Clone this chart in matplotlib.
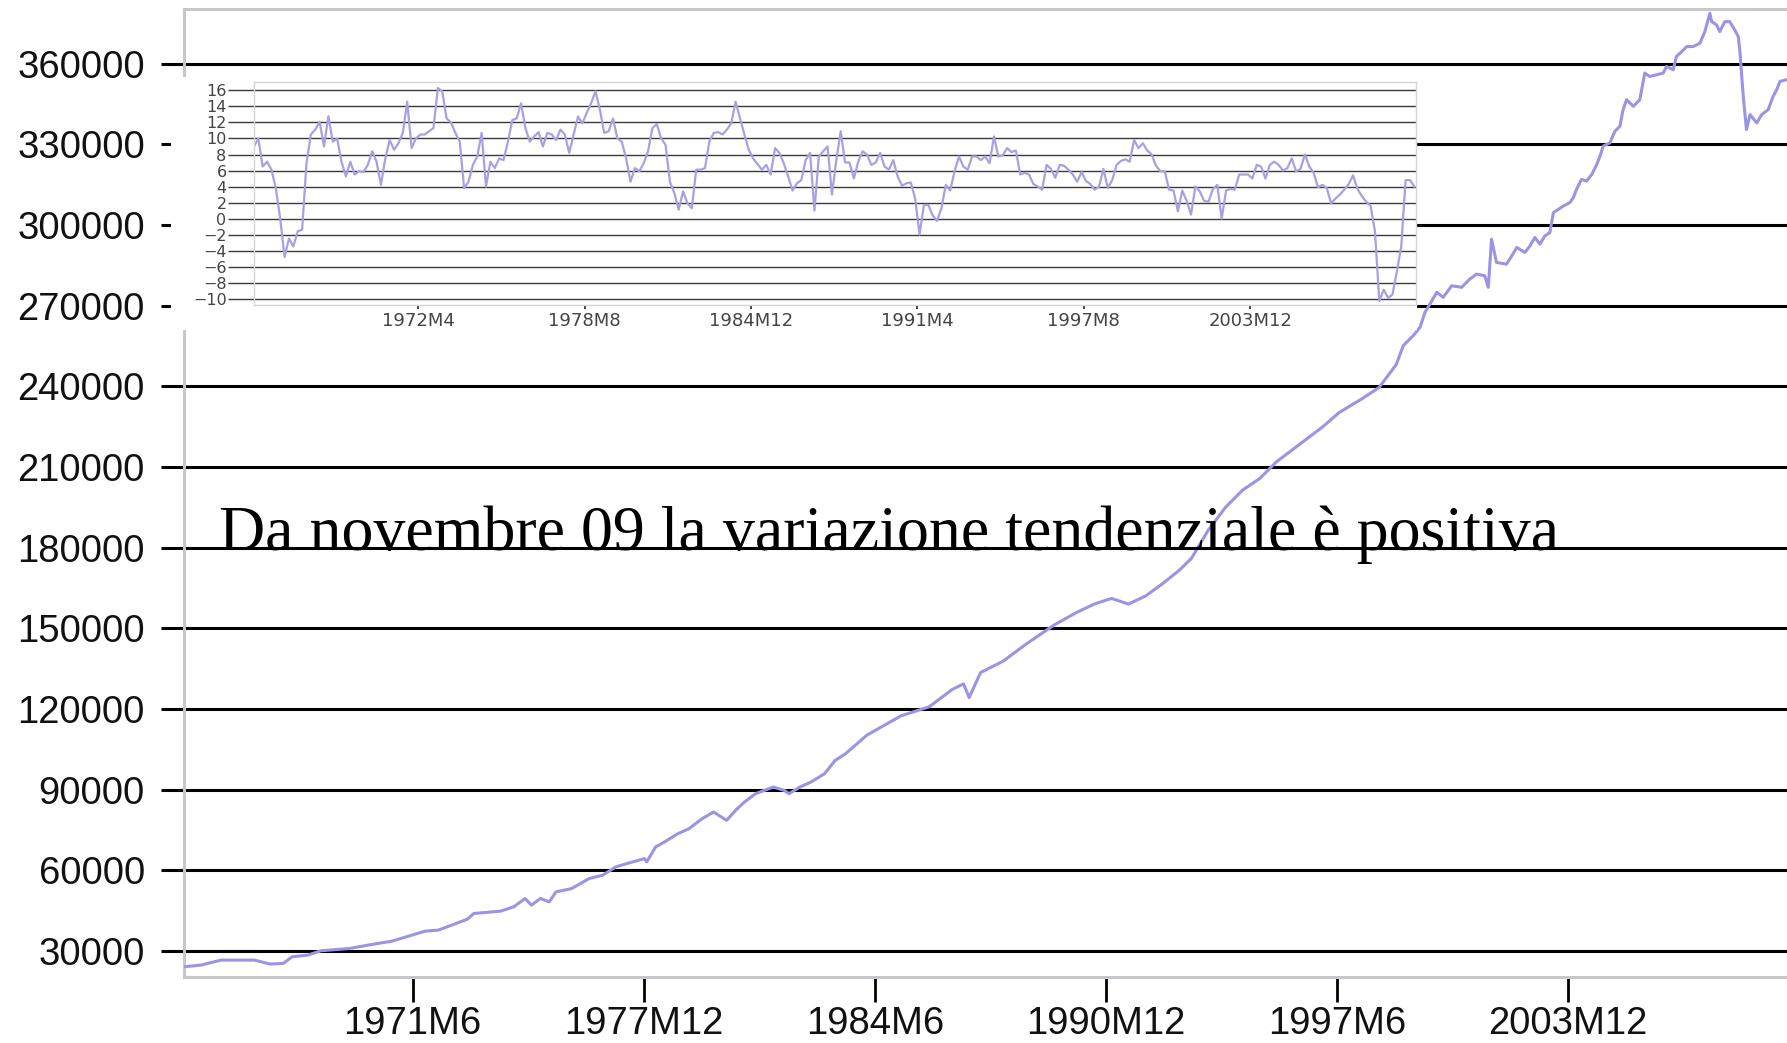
import numpy as np
import matplotlib.pyplot as plt
from matplotlib.patches import Rectangle

# main series: level (decimal year, value)
main_years = [
    1965.00, 1965.47, 1966.03, 1966.97, 1967.41, 1967.78, 1968.03, 1968.47, 1968.84, 1969.65,
    1970.27, 1970.84, 1971.40, 1971.77, 1972.14, 1972.64, 1972.96, 1973.14, 1973.89, 1974.26,
    1974.58, 1974.76, 1975.01, 1975.26, 1975.45, 1975.89, 1976.38, 1976.76, 1977.13, 1977.44,
    1977.94, 1978.00, 1978.25, 1978.50, 1978.88, 1979.19, 1979.56, 1979.88, 1980.25, 1980.50,
    1980.75, 1981.06, 1981.31, 1981.56, 1981.87, 1982.00, 1982.31, 1982.62, 1983.00, 1983.30,
    1983.59, 1984.19, 1985.15, 1985.95, 1986.59, 1986.91, 1987.07, 1987.39, 1988.03, 1988.67,
    1989.47, 1990.11, 1990.59, 1991.07, 1991.55, 1992.03, 1992.51, 1992.99, 1993.32, 1993.80,
    1994.28, 1994.76, 1995.24, 1995.72, 1996.36, 1997.00, 1997.48, 1998.12, 1998.60, 1999.08,
    1999.28, 1999.56, 1999.75, 1999.89, 2000.03, 2000.22, 2000.40, 2000.64, 2000.92, 2001.15,
    2001.34, 2001.57, 2001.67, 2001.76, 2001.90, 2002.18, 2002.33, 2002.47, 2002.70, 2002.84,
    2002.98, 2003.12, 2003.26, 2003.40, 2003.50, 2003.64, 2003.78, 2003.96, 2004.06, 2004.15,
    2004.29, 2004.43, 2004.58, 2004.72, 2004.81, 2004.90, 2005.09, 2005.23, 2005.37, 2005.46,
    2005.56, 2005.75, 2005.93, 2006.07, 2006.21, 2006.59, 2006.68, 2006.87, 2006.96, 2007.11,
    2007.25, 2007.43, 2007.62, 2007.76, 2007.90, 2007.95, 2008.09, 2008.18, 2008.32, 2008.46,
    2008.60, 2008.70, 2008.75, 2008.79, 2008.84, 2008.93, 2009.03, 2009.22, 2009.36, 2009.54,
    2009.68, 2009.78, 2009.87, 2010.06,
]
main_values = [
    24060, 24680, 26530, 26530, 25050, 25300, 27770, 28390, 30000, 30870,
    32350, 33590, 35820, 37300, 37680, 40150, 41760, 43870, 44730, 46340,
    49440, 46960, 49440, 48200, 51910, 53150, 56860, 58100, 61200, 62440,
    64290, 63050, 68630, 70480, 73580, 75430, 79150, 81620, 78530, 82240,
    85340, 88430, 89670, 90910, 89670, 88430, 90910, 92770, 95860, 100810,
    103290, 110190, 117400, 120800, 127200, 129300, 124200, 133500, 137800, 144100,
    151300, 156000, 159000, 161100, 159000, 162000, 166600, 171700, 176000, 186600,
    195000, 201400, 205700, 212000, 218400, 224800, 230300, 235400, 239600, 248100,
    255170, 258880, 261980, 267560, 270640, 274980, 273120, 277420, 276830, 279910,
    281760, 281130, 276830, 294740, 286100, 285470, 288550, 291660, 289810, 292260,
    295370, 292890, 295960, 297220, 304630, 305860, 307090, 308330, 310180, 313280,
    316990, 316360, 318850, 322550, 325630, 329340, 330590, 334900, 336750, 342940,
    346650, 344170, 346650, 356550, 355290, 356550, 359000, 357780, 362710, 364560,
    366410, 366410, 367650, 371980, 378800, 375690, 374460, 371980, 375690, 375690,
    372610, 370120, 363970, 356550, 347880, 335530, 341090, 338010, 341090, 342940,
    347880, 350360, 353440, 354070,
]

# inset: year-on-year % change, one reading every two months from 1966M1
inset_values = [
    9.0, 10.0, 6.5, 7.1, 6.1, 3.8, 0.0, -4.8, -2.5, -3.5,
    -1.6, -1.4, 6.9, 10.5, 11.1, 12.1, 9.0, 12.8, 9.6, 10.0,
    7.1, 5.25, 7.1, 5.5, 5.9, 5.8, 6.7, 8.4, 7.1, 4.2,
    7.5, 9.8, 8.6, 9.4, 10.7, 14.6, 8.8, 10.0, 10.5, 10.5,
    10.9, 11.3, 16.3, 15.9, 12.5, 12.0, 10.7, 9.6, 3.8, 4.6,
    6.7, 7.75, 10.7,
    4.0, 7.1, 6.3, 7.5, 7.3, 9.6, 12.3, 12.5, 14.4, 11.3,
    9.6, 10.25, 10.8, 9.0, 10.7, 10.5, 9.8, 11.1, 10.5, 8.2,
    10.5, 12.75, 11.9, 13.2, 14.4, 15.9, 13.6, 10.7, 10.9, 12.5,
    10.0, 9.6, 7.5, 4.6, 6.3, 5.9, 6.9, 8.4, 11.3, 11.8,
    10.0, 9.2, 4.6, 3.2, 1.1, 3.4, 1.9, 1.3, 6.1, 6.1,
    6.3, 9.6, 10.7, 10.8,
    10.5, 11.1, 11.9, 14.6, 12.5, 10.5, 8.6, 7.5, 6.8, 6.1,
    6.7, 5.5, 8.8, 8.2, 6.9, 5.25, 3.5, 4.4, 4.8, 7.3,
    8.2, 1.0, 7.75, 8.4, 9.0, 3.0, 7.3, 10.9, 7.0, 7.0,
    5.0, 7.1, 8.4, 8.0, 6.7, 7.0, 8.2, 6.5, 6.1, 7.3,
    5.25, 4.1, 4.4, 4.5, 2.5, -2.0, 1.7, 1.7, 0.4, -0.3,
    1.3, 4.2, 3.5,
    5.9, 7.75, 6.5, 6.1, 7.75, 7.75, 7.3, 7.75, 6.9, 10.25,
    7.75, 7.9, 8.8, 8.3, 8.5, 5.5, 5.7, 5.5, 4.3, 4.0,
    3.6, 6.7, 6.2, 5.1, 6.7, 6.6, 6.1, 5.5, 4.6, 5.8,
    4.7, 4.3, 3.6, 4.0, 6.2, 3.8, 4.8, 6.7, 7.2, 7.4,
    7.1, 9.8, 8.8, 9.4, 8.5, 8.0, 6.6, 5.9, 5.9, 3.6,
    3.5, 0.9, 3.5, 2.2,
    0.5, 4.0, 3.4, 2.2, 2.1, 3.7, 4.2, 0.0, 3.5, 3.7,
    3.6, 5.5, 5.5, 5.5, 5.0, 6.7, 6.5, 5.0, 6.7, 7.1,
    6.7, 6.0, 6.3, 7.5, 5.9, 6.2, 8.0, 6.5, 5.7, 3.9,
    4.2, 3.8, 1.9, 2.5, 3.0, 3.6, 4.3, 5.4, 3.7, 2.8,
    2.1, 1.6, -1.6, -10.3, -8.9, -9.9, -9.5, -6.6, -3.5, 4.8,
    4.8, 4.0,
]
inset_years = 1966 + np.arange(len(inset_values)) * 2 / 12

main_ytick_values = [30000, 60000, 90000, 120000, 150000, 180000, 210000,
                     240000, 270000, 300000, 330000, 360000]
main_xtick_labels = ['1971M6', '1977M12', '1984M6', '1990M12', '1997M6', '2003M12']
main_xtick_pos = [1971 + 5/12, 1977 + 11/12, 1984 + 5/12, 1990 + 11/12, 1997 + 5/12, 2003 + 11/12]
inset_xtick_labels = ['1972M4', '1978M8', '1984M12', '1991M4', '1997M8', '2003M12']
inset_xtick_pos = [1972 + 3/12, 1978 + 7/12, 1984 + 11/12, 1991 + 3/12, 1997 + 7/12, 2003 + 11/12]
inset_ytick_values = list(range(-10, 17, 2))

note = 'Da novembre 09 la variazione tendenziale è positiva'


def main():
    fig = plt.figure(figsize=(17.87, 10.43), dpi=100)

    # main chart
    ax = fig.add_axes([0.1032, 0.0633, 0.8968, 0.9281])
    ax.plot(main_years, main_values, color='#9a94e4', lw=2.2, zorder=3)
    ax.set_xlim(1965.0, 2010.07)
    ax.set_ylim(20250, 380400)
    ax.set_yticks(main_ytick_values)
    ax.set_yticklabels([str(v) for v in main_ytick_values])
    ax.set_xticks(main_xtick_pos)
    ax.set_xticklabels(main_xtick_labels)
    ax.grid(axis='y', color='black', lw=2.2)
    ax.set_axisbelow(True)
    for lab in ax.get_xticklabels() + ax.get_yticklabels():
        lab.set_family('Liberation Sans')
    ax.tick_params(axis='y', direction='out', length=16.5, width=2.2, color='black',
                   pad=12, labelsize=27.5, labelcolor='#111111')
    ax.tick_params(axis='x', direction='out', length=18, width=2.0, color='black',
                   pad=3, labelsize=27.5, labelcolor='#111111')
    for side in ['left', 'top', 'bottom']:
        ax.spines[side].set_color('#c4c7cb')
        ax.spines[side].set_linewidth(2.2)
    ax.spines['right'].set_visible(False)

    # white backing for the pasted inset
    bg = Rectangle((0.0957, 0.6836), 0.6973, 0.2426, transform=fig.transFigure,
                   facecolor='white', edgecolor='none', zorder=1)
    fig.add_artist(bg)

    ins = fig.add_axes([0.1421, 0.7076, 0.6503, 0.2141], zorder=2)
    ins.plot(inset_years, inset_values, color='#a6a2e2', lw=1.6)
    ins.set_xlim(1966.0, 2010.23)
    ins.set_ylim(-10.8, 17.1)
    ins.set_yticks(inset_ytick_values)
    ins.set_xticks(inset_xtick_pos)
    ins.set_xticklabels(inset_xtick_labels)
    ins.grid(axis='y', color='#3a3a3a', lw=1.0)
    ins.set_axisbelow(True)
    ins.tick_params(axis='y', direction='out', length=18.7, width=1.0, color='#3a3a3a',
                    pad=1, labelsize=11.5, labelcolor='#444444')
    ins.tick_params(axis='x', direction='out', length=3, width=1.2, color='#222222',
                    pad=2, labelsize=13, labelcolor='#444444')
    for side in ins.spines:
        ins.spines[side].set_color('#d5d5d5')
        ins.spines[side].set_linewidth(1.0)

    fig.text(219 / 1787, (1043 - 550) / 1043, note, family='Liberation Serif',
             fontsize=46, color='black', ha='left', va='baseline', zorder=5)

    fig.savefig('out.png', dpi=100)


if __name__ == "__main__":
    main()
